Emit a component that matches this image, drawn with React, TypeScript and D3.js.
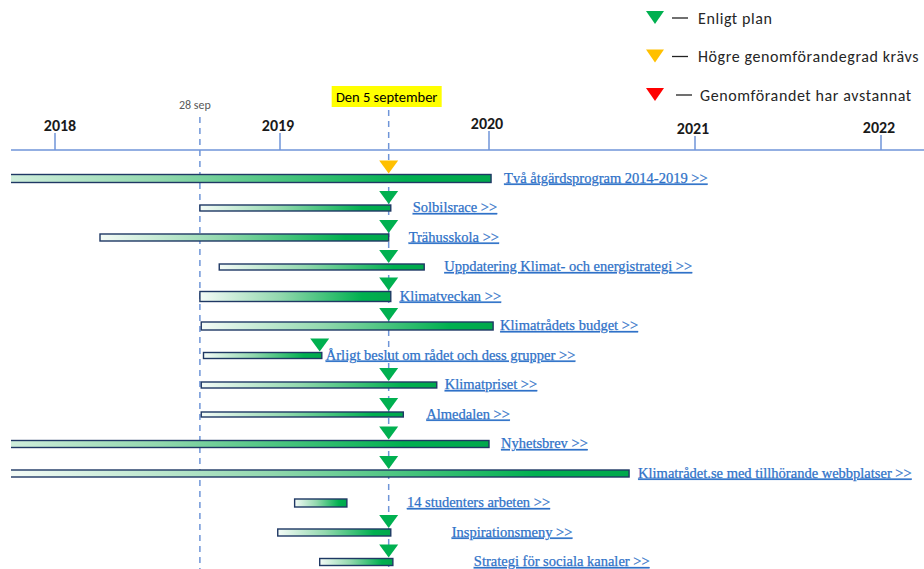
import React from "react";
import * as d3 from "d3";

// ---------- data ----------
const YEARS = [2018, 2019, 2020, 2021, 2022];
const TASKS = [
  "Två åtgärdsprogram 2014-2019 >>",
  "Solbilsrace >>",
  "Trähusskola >>",
  "Uppdatering Klimat- och energistrategi >>",
  "Klimatveckan >>",
  "Klimatrådets budget >>",
  "Årligt beslut om rådet och dess grupper >>",
  "Klimatpriset >>",
  "Almedalen >>",
  "Nyhetsbrev >>",
  "Klimatrådet.se med tillhörande webbplatser >>",
  "14 studenters arbeten >>",
  "Inspirationsmeny >>",
  "Strategi för sociala kanaler >>",
];
const STARTS = [2017.4, 2018.644, 2018.2, 2018.73, 2018.644, 2018.65, 2018.66, 2018.65, 2018.65, 2017.4, 2017.8, 2019.07, 2018.99, 2019.19];
const ENDS = [2020.01, 2019.53, 2019.52, 2019.69, 2019.53, 2020.02, 2019.2, 2019.75, 2019.59, 2020.0, 2020.68, 2019.32, 2019.53, 2019.54];
const MARKERS: (number | null)[] = [2019.52, 2019.52, 2019.52, 2019.52, 2019.52, 2019.52, 2019.19, 2019.52, 2019.52, 2019.52, 2019.52, null, 2019.52, 2019.52];
const STATUS = [1, 0, 0, 0, 0, 0, 0, 0, 0, 0, 0, 0, 0, 0]; // index into LEGEND
const LEGEND = ["Enligt plan", "Högre genomförandegrad krävs", "Genomförandet har avstannat"];
const EVENT_LABELS = ["28 sep", "Den 5 september"];
const EVENT_DATES = [2018.644, 2019.52];

// ---------- layout / style ----------
const W = 924, H = 569;
const STATUS_COLORS = ["#00b050", "#ffc000", "#ff0000"];
const BAR_THICK = [8, 6, 7, 6, 10, 8, 6, 6, 5, 7, 7, 8, 7, 7];
const LABEL_GAP = [13, 22, 20, 20, 9, 7, 4, 8, 23, 12, 9, 60, 61, 81];
const YEAR_LABEL_Y = [125, 125, 123, 128, 127];
const AXIS_Y = 150;
const BLUE = "#6f95d8";
const NAVY = "#1f3864";
const LINK = "#2f72c8";
const SANS = "Carlito, Lato, sans-serif";

export default function App() {
  const x = d3.scaleLinear().domain(YEARS).range([55, 280, 489, 695, 881]);
  const y = d3
    .scalePoint<number>()
    .domain(d3.range(TASKS.length))
    .range([178.5, 562]);

  const legendY = d3.scalePoint<number>().domain(d3.range(LEGEND.length)).range([18, 95]);

  const tri = (cx: number, tip: number, w = 19, h = 13) =>
    `M${cx - w / 2},${tip - h}L${cx + w / 2},${tip - h}L${cx},${tip}Z`;

  return (
    <svg
      width={W}
      height={H}
      style={{ position: "absolute", left: 0, top: 0, display: "block", background: "#fff" }}
    >
      <defs>
        <linearGradient id="barGrad" x1="0" x2="1" y1="0" y2="0">
          <stop offset="0" stopColor="#f4fbf7" />
          <stop offset="0.42" stopColor="#92d8ae" />
          <stop offset="0.85" stopColor="#00b050" />
          <stop offset="1" stopColor="#00a84c" />
        </linearGradient>
        <clipPath id="plotClip">
          <rect x={11} y={0} width={W - 11} height={H} />
        </clipPath>
      </defs>

      {/* legend */}
      {LEGEND.map((t, i) => {
        const cy = legendY(i)!;
        return (
          <g key={t}>
            <path d={tri(655, cy + 6, 18, 13)} fill={STATUS_COLORS[i]} />
            <line x1={672 + (i === 2 ? 4 : 0)} x2={688 + (i === 2 ? 4 : 0)} y1={cy} y2={cy} stroke="#222" strokeWidth={1.3} />
            <text
              x={698 + (i === 2 ? 2 : 0)}
              y={cy}
              dy="0.35em"
              fontFamily={SANS}
              fontSize={16}
              letterSpacing={0.6}
              fill="#262626"
            >
              {t}
            </text>
          </g>
        );
      })}

      {/* event lines */}
      {EVENT_DATES.map((d, i) => (
        <line
          key={"ev" + i}
          x1={x(d)}
          x2={x(d)}
          y1={i === 0 ? 117 : 110}
          y2={H}
          stroke={BLUE}
          strokeWidth={1.5}
          strokeDasharray="6,5"
        />
      ))}
      <text
        x={x(EVENT_DATES[0]) - 5}
        y={105}
        dy="0.35em"
        textAnchor="middle"
        fontFamily={SANS}
        fontSize={12}
        fill="#595959"
      >
        {EVENT_LABELS[0]}
      </text>
      <rect x={x(EVENT_DATES[1]) - 57} y={86} width={110} height={21} fill="#ffff00" />
      <text
        x={x(EVENT_DATES[1]) - 2}
        y={97}
        dy="0.35em"
        textAnchor="middle"
        fontFamily={SANS}
        fontSize={14.5}
        fill="#000"
      >
        {EVENT_LABELS[1]}
      </text>

      {/* axis */}
      <line x1={11} x2={W} y1={AXIS_Y} y2={AXIS_Y} stroke={BLUE} strokeWidth={1.5} />
      {YEARS.map((yr, i) => (
        <g key={yr}>
          <line x1={x(yr)} x2={x(yr)} y1={YEAR_LABEL_Y[i] + 8} y2={AXIS_Y} stroke={BLUE} strokeWidth={1.5} />
          <text
            x={x(yr) + (i === 0 ? 5 : -2)}
            y={YEAR_LABEL_Y[i]}
            dy="0.35em"
            textAnchor="middle"
            fontFamily={SANS}
            fontWeight="bold"
            fontSize={16}
            fill="#1a1a1a"
          >
            {yr}
          </text>
        </g>
      ))}

      {/* bars */}
      <g clipPath="url(#plotClip)">
        {TASKS.map((t, i) => {
          const cy = y(i)!;
          const h = BAR_THICK[i];
          const x0 = x(STARTS[i]);
          const x1 = x(ENDS[i]);
          return (
            <rect
              key={"bar" + i}
              x={x0}
              y={cy - h / 2}
              width={x1 - x0}
              height={h}
              fill="url(#barGrad)"
              stroke={NAVY}
              strokeWidth={1.4}
            />
          );
        })}
      </g>

      {/* markers */}
      {TASKS.map((t, i) => {
        const m = MARKERS[i];
        if (m == null) return null;
        const cy = y(i)!;
        const tip = cy - BAR_THICK[i] / 2 - 1;
        return <path key={"m" + i} d={tri(x(m), tip)} fill={STATUS_COLORS[STATUS[i]]} />;
      })}

      {/* labels */}
      {TASKS.map((t, i) => (
        <text
          key={"lbl" + i}
          x={x(ENDS[i]) + LABEL_GAP[i]}
          y={y(i)! + 4}
          fontFamily="'Liberation Serif', serif"
          fontSize={14.5}
          fill={LINK}
          stroke={LINK}
          strokeWidth={0.25}
          textDecoration="underline"
        >
          {t}
        </text>
      ))}
    </svg>
  );
}
